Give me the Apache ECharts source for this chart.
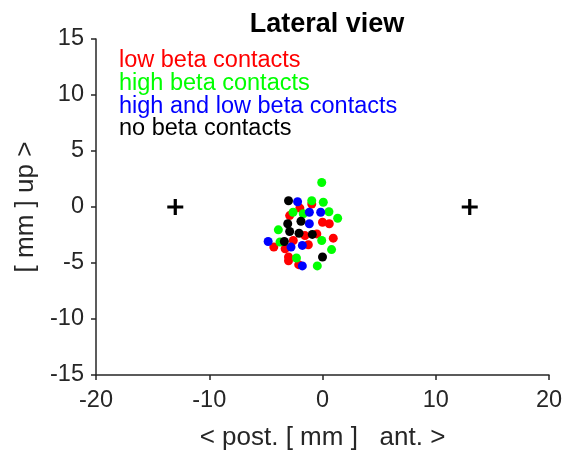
<!DOCTYPE html>
<html><head><meta charset="utf-8">
<script src="https://cdn.jsdelivr.net/npm/echarts@6/dist/echarts.min.js"></script>
<style>html,body{margin:0;padding:0;background:#fff}#c{width:566px;height:456px}</style>
</head><body><div id="c"></div>
<script>
var lowBeta = [[-0.95,0.27],[-2.0,-0.1],[-2.9,-0.77],[0.0,-1.36],[0.6,-1.5],[-0.5,-2.4],[-1.55,-2.55],[0.95,-2.78],[-4.3,-3.58],[-3.3,-3.73],[-2.58,-2.99],[-1.25,-3.37],[-3.0,-4.46],[-2.1,-5.15],[-3.0,-4.8]];
var highBeta = [[-0.07,2.19],[-0.95,0.56],[0.07,0.42],[-2.6,-0.47],[0.57,-0.42],[1.34,-1.0],[-1.7,-0.6],[-3.9,-2.04],[-3.75,-3.13],[-0.07,-2.99],[0.8,-3.8],[-2.3,-4.55],[-0.46,-5.26]];
var bothBeta = [[-2.2,0.47],[-1.16,-0.47],[-0.16,-0.47],[-1.16,-1.5],[-4.8,-3.08],[-2.78,-3.58],[-1.78,-3.43],[-1.78,-5.26]];
var noBeta = [[-3.0,0.56],[-3.07,-1.5],[-1.9,-1.27],[-2.9,-2.19],[-2.07,-2.34],[-0.9,-2.45],[-3.37,-3.08],[0.0,-4.46]];
var crosses = [[-13,0],[13,0]];
var legendLabels = ['low beta contacts','high beta contacts','high and low beta contacts','no beta contacts'];
var legendColors = ['#ff0000','#00ff00','#0000ff','#000000'];

var chart = echarts.init(document.getElementById('c'));
var font = 'Liberation Sans, Arial, sans-serif';
var axisCol = '#262626';
function sc(data,color){return {type:'scatter',data:data,symbol:'circle',symbolSize:9,itemStyle:{color:color,opacity:1},silent:true};}
var plusPath = 'path://M-1,-0.2L1,-0.2L1,0.2L-1,0.2Z M-0.2,-1L0.2,-1L0.2,1L-0.2,1Z';
chart.setOption({
  animation:false,
  title:{text:'Lateral view',left:322,top:6,textAlign:'center',textStyle:{fontFamily:font,fontSize:27,fontWeight:'bold',color:'#000'}},
  grid:{left:96,right:17,top:39,bottom:79},
  xAxis:{type:'value',min:-20,max:20,interval:10,name:'< post. [ mm ]   ant. >',nameLocation:'middle',nameGap:50,
    nameTextStyle:{fontFamily:font,fontSize:26,color:axisCol},
    axisLine:{onZero:false,lineStyle:{color:axisCol,width:1.5}},axisTick:{length:5,lineStyle:{color:axisCol,width:1.5}},
    axisLabel:{fontFamily:font,fontSize:23.5,color:axisCol,margin:14},splitLine:{show:false}},
  yAxis:{type:'value',min:-15,max:15,interval:5,name:'[ mm ] up >',nameLocation:'middle',nameGap:54,
    nameTextStyle:{fontFamily:font,fontSize:26,color:axisCol},
    axisLine:{show:true,onZero:false,lineStyle:{color:axisCol,width:1.5}},axisTick:{show:true,length:5,lineStyle:{color:axisCol,width:1.5}},
    axisLabel:{fontFamily:font,fontSize:23.5,color:axisCol,margin:12},splitLine:{show:false}},
  graphic: legendLabels.map(function(t,i){return {type:'text',x:119,y:61+i*22.6,style:{text:t,fill:legendColors[i],font:'23.5px '+font,textVerticalAlign:'middle'}};}),
  series:[sc(lowBeta,legendColors[0]),sc(highBeta,legendColors[1]),sc(bothBeta,legendColors[2]),sc(noBeta,legendColors[3]),
    {type:'scatter',data:crosses,symbol:plusPath,symbolSize:16,itemStyle:{color:'#000',opacity:1},silent:true}]
});
</script></body></html>
